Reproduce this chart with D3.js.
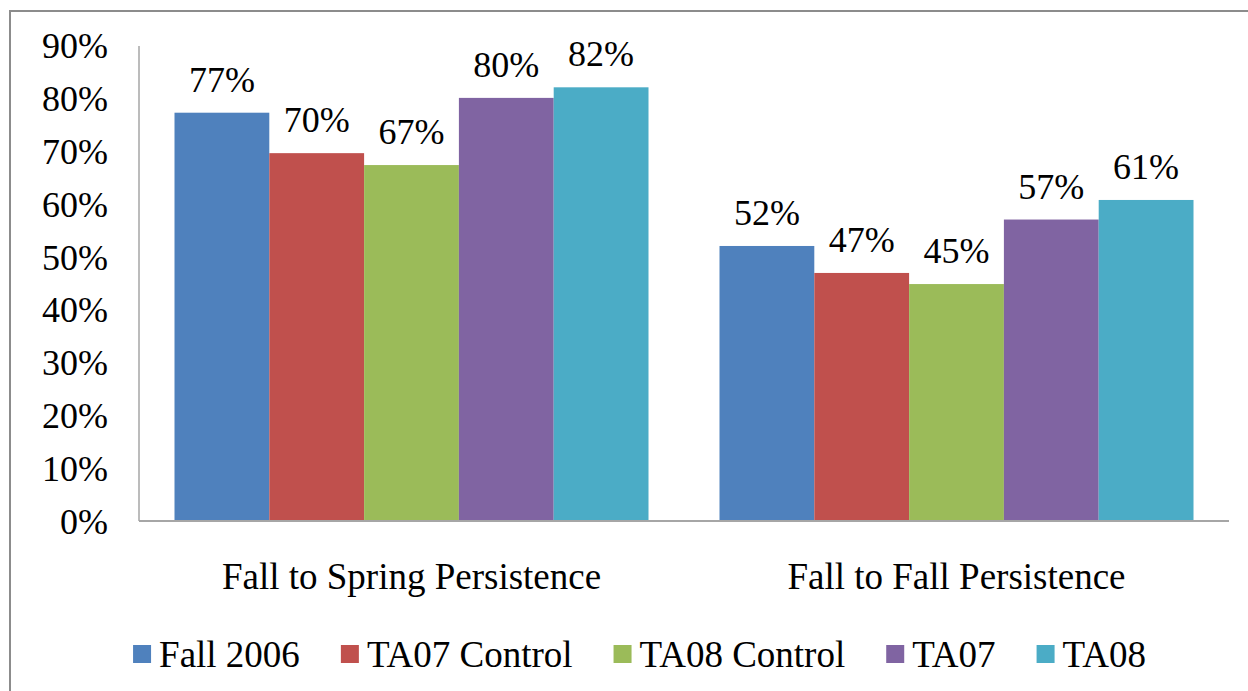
<!DOCTYPE html>
<html><head><meta charset="utf-8">
<script src="https://cdn.jsdelivr.net/npm/d3@7"></script>
</head>
<body style="margin:0;background:#fff">
<svg id="chart" width="1248" height="691" style="display:block;font-family:'Liberation Serif'"></svg>
<script>
const categories = ["Fall to Spring Persistence", "Fall to Fall Persistence"];
const seriesNames = ["Fall 2006", "TA07 Control", "TA08 Control", "TA07", "TA08"];
const seriesColors = ["#4F81BD", "#C0504D", "#9BBB59", "#8064A2", "#4BACC6"];
const fall2006 = [0.772, 0.52];
const ta07Control = [0.6955, 0.469];
const ta08Control = [0.673, 0.448];
const ta07 = [0.80, 0.57];
const ta08 = [0.82, 0.607];
const seriesValues = [fall2006, ta07Control, ta08Control, ta07, ta08];
const yTicks = [0, 0.1, 0.2, 0.3, 0.4, 0.5, 0.6, 0.7, 0.8, 0.9];

const svg = d3.select("#chart");
const W = 1248, H = 691;
const fontSize = 36;
const FF = "Liberation Serif";

function txt(sel) {
  return sel.attr("font-family", FF).style("font-family", '"Liberation Serif"');
}

// outer frame
svg.append("rect").attr("x", 10).attr("y", 11).attr("width", W + 20).attr("height", H + 20)
  .attr("fill", "#fff").attr("stroke", "#8c8c8c").attr("stroke-width", 2);

const plot = {left: 139, right: 1229, top: 45, bottom: 521};

const x0 = d3.scaleBand().domain(categories).range([plot.left, plot.right]).padding(0);
const x1 = d3.scaleBand().domain(seriesNames)
  .range([35.5, x0.bandwidth() - 35.5]).padding(0);
const y = d3.scaleLinear().domain([0, 0.9]).range([plot.bottom, plot.top]);
const fmt = v => Math.round(v * 100) + "%";

// y tick labels
txt(svg.append("g").selectAll("text").data(yTicks).join("text"))
  .attr("x", 108).attr("y", d => y(d) + 13)
  .attr("text-anchor", "end").attr("font-size", fontSize)
  .text(d => fmt(d));

// bars
const groups = svg.append("g").selectAll("g").data(categories).join("g")
  .attr("transform", c => `translate(${x0(c)},0)`);

groups.each(function(c, ci) {
  const g = d3.select(this);
  const data = seriesNames.map((s, si) => ({s, si, v: seriesValues[si][ci]}));
  g.selectAll("rect").data(data).join("rect")
    .attr("x", d => x1(d.s)).attr("width", x1.bandwidth())
    .attr("y", d => y(d.v)).attr("height", d => y(0) - y(d.v))
    .attr("fill", d => seriesColors[d.si]);
  txt(g.selectAll("text.lbl").data(data).join("text")).attr("class", "lbl")
    .attr("x", d => x1(d.s) + x1.bandwidth() / 2)
    .attr("y", d => y(d.v) - 21)
    .attr("text-anchor", "middle").attr("font-size", fontSize)
    .text(d => fmt(d.v));
});

// axes lines
svg.append("line").attr("x1", plot.left).attr("x2", plot.left)
  .attr("y1", plot.top + 1).attr("y2", plot.bottom)
  .attr("stroke", "#a6a6a6").attr("stroke-width", 1.5);
svg.append("line").attr("x1", plot.left).attr("x2", plot.right)
  .attr("y1", plot.bottom).attr("y2", plot.bottom)
  .attr("stroke", "#a6a6a6").attr("stroke-width", 2);

// category labels
txt(svg.append("g").selectAll("text").data(categories).join("text"))
  .attr("x", c => x0(c) + x0.bandwidth() / 2).attr("y", 589)
  .attr("text-anchor", "middle").attr("font-size", fontSize + 1)
  .text(c => c);

// legend
const leg = svg.append("g");
const items = leg.selectAll("g").data(seriesNames).join("g");
items.append("rect").attr("width", 18).attr("height", 18).attr("y", -22)
  .attr("fill", (d, i) => seriesColors[i]);
txt(items.append("text")).attr("x", 26).attr("y", 0).attr("font-size", fontSize + 1)
  .text(d => d);
let cx = 0;
const gap = 41;
const positions = [];
items.each(function() {
  positions.push(cx);
  cx += 26 + this.querySelector("text").getComputedTextLength() + gap;
});
const totalW = cx - gap;
const startX = 639.5 - totalW / 2;
items.attr("transform", (d, i) => `translate(${startX + positions[i]},667)`);
</script>
</body></html>
